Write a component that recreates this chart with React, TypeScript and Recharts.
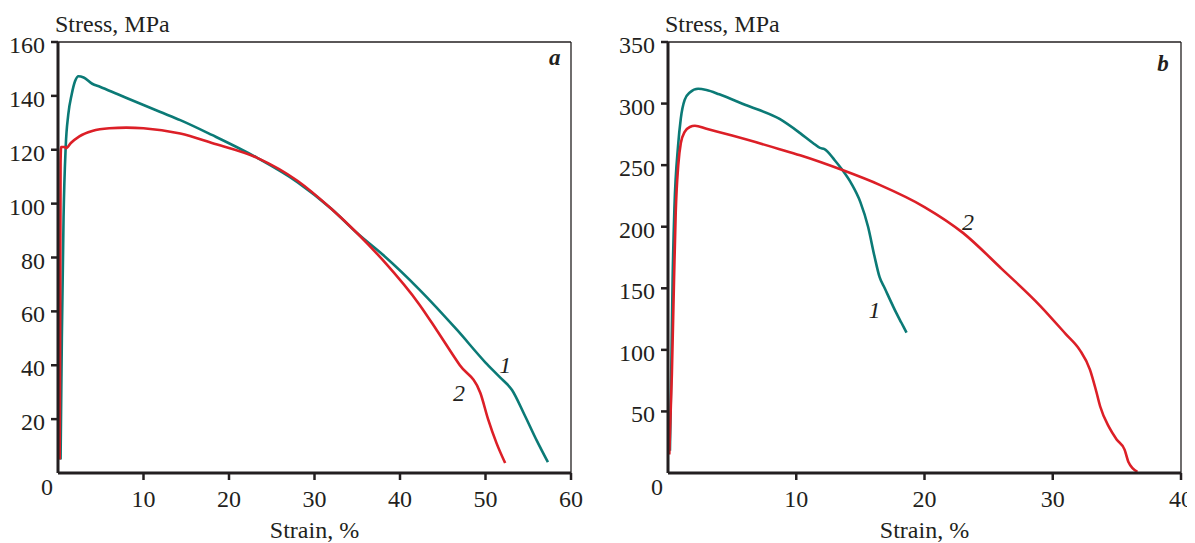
import { LineChart, Line, XAxis, YAxis, ReferenceLine, ReferenceDot } from 'recharts';

const FONT = '"Liberation Serif", "Times New Roman", serif';
const INK = '#231f20';
const TEAL = '#0b7a76';
const RED = '#dc1f27';

// panel a
const strainA1 = [0.3, 0.45, 0.65, 0.9, 1.2, 1.6, 2.0, 2.4, 3.0, 4.0, 4.9, 7, 10, 11.9, 14.3, 18, 23.3, 28, 32, 35, 38, 42.3, 46.7, 50, 51.7, 53.1, 54.5, 56, 57.3];
const stressA1 = [5, 50, 95, 121, 133, 140.5, 145.5, 147.3, 146.8, 144.5, 143.4, 140.6, 136.6, 134.1, 131, 125.5, 117, 108, 98, 89, 81, 68, 53, 41, 35.5, 30.8, 22, 12, 4];
const strainA2 = [0.2, 0.26, 0.3, 0.36, 0.6, 0.8, 0.95, 1.5, 2.5, 4, 6, 8, 10, 14.3, 18, 23.3, 28, 32, 35, 38, 42.3, 44.3, 47, 49.4, 50.3, 51.3, 52.3];
const stressA2 = [5, 60, 115, 121, 121, 121, 120.6, 122.5, 125, 127, 128, 128.2, 128, 126, 122.5, 117, 108.5, 98, 89, 79, 62.4, 53, 40, 29.7, 20, 11, 3.7];
const ticksAX = [10, 20, 30, 40, 50, 60];
const ticksAY = [0, 20, 40, 60, 80, 100, 120, 140, 160];

// panel b
const strainB1 = [0.15, 0.25, 0.36, 0.5, 0.78, 1.0, 1.3, 1.7, 2.35, 3, 4, 6, 8.7, 10.3, 11.3, 11.85, 12.2, 13, 13.6, 14.3, 15, 15.6, 16.1, 16.5, 16.9, 17.5, 17.8, 18.2, 18.6];
const stressB1 = [18, 80, 157, 215, 265, 288, 303, 309, 312, 311, 307.5, 299, 287.5, 276, 268, 264, 263, 254, 246, 235, 220, 200, 176, 159, 150, 136.5, 130, 122, 114];
const strainB2 = [0.1, 0.3, 0.47, 0.6, 0.8, 1.0, 1.3, 1.7, 2.1, 3, 5, 8.7, 10.3, 13.6, 16.5, 20, 23, 26, 29, 31, 32.1, 32.9, 33.4, 33.7, 34.4, 35.0, 35.6, 35.9, 36.6];
const stressB2 = [15, 80, 157, 211, 250, 268, 277, 281, 282, 279.5, 274, 263, 258, 246, 234, 216, 195, 166, 136, 113, 100, 84, 66, 54, 37, 27, 19, 9, 1];
const ticksBX = [10, 20, 30, 40];
const ticksBY = [0, 50, 100, 150, 200, 250, 300, 350];

const toPoints = (e: number[], s: number[]) => e.map((v, i) => ({ e: v, s: s[i] }));

const TICK_SIZE = 7;
const TICK_MARGIN = 6;
const txt = (extra: Record<string, any> = {}) => ({ fontFamily: FONT, fontSize: 24, fill: INK, ...extra });

const YTick = (props: any) => {
  const { x, y, payload } = props;
  const axisX = x + TICK_SIZE + TICK_MARGIN;
  const zero = payload.value === 0;
  return (
    <g>
      {!zero && <line x1={axisX - TICK_SIZE} x2={axisX} y1={y} y2={y} stroke={INK} strokeWidth={2.5} />}
      <text x={zero ? x + 8 : x} y={zero ? y + 22 : y + 11} textAnchor="end" style={txt()}>
        {payload.value}
      </text>
    </g>
  );
};

const XTick = (props: any) => {
  const { x, y, payload } = props;
  return (
    <text x={x} y={y + 19} textAnchor="middle" style={txt()}>
      {payload.value}
    </text>
  );
};

type PanelProps = {
  width: number;
  marginRight: number;
  yWidth: number;
  xMax: number;
  yMax: number;
  xTicks: number[];
  yTicks: number[];
  teal: { e: number; s: number }[];
  red: { e: number; s: number }[];
  letter: string;
  letterPos: [number, number];
  label1: [number, number];
  label2: [number, number];
};

const textLabel = (text: string, style: Record<string, any>) => ({
  content: (lp: any) => (
    <text x={lp.viewBox.x} y={lp.viewBox.y + 8} textAnchor="middle" style={txt(style)}>
      {text}
    </text>
  ),
});

function Panel(p: PanelProps) {
  return (
    <LineChart width={p.width} height={540} margin={{ top: 34, right: p.marginRight, bottom: 0, left: 0 }}>
      <XAxis
        type="number"
        dataKey="e"
        domain={[0, p.xMax]}
        ticks={p.xTicks}
        allowDataOverflow
        height={75}
        axisLine={{ stroke: INK, strokeWidth: 3 }}
        tickLine={{ stroke: INK, strokeWidth: 2.5 }}
        tickSize={TICK_SIZE}
        tickMargin={8}
        tick={<XTick />}
        label={{
          content: (lp: any) => (
            <text x={lp.viewBox.x + lp.viewBox.width / 2} y={lp.viewBox.y + 65} textAnchor="middle" style={txt()}>
              Strain, %
            </text>
          ),
        }}
      />
      <YAxis
        type="number"
        dataKey="s"
        domain={[0, p.yMax]}
        ticks={p.yTicks}
        allowDataOverflow
        width={p.yWidth}
        axisLine={{ stroke: INK, strokeWidth: 3 }}
        tickLine={false}
        tickSize={TICK_SIZE}
        tickMargin={TICK_MARGIN}
        tick={<YTick />}
      />
      <ReferenceLine y={p.yMax} stroke={INK} strokeWidth={1.3} />
      <ReferenceLine x={p.xMax} stroke={INK} strokeWidth={1.3} />
      <Line data={p.teal} dataKey="s" type="monotone" stroke={TEAL} strokeWidth={2.6} dot={false} isAnimationActive={false} />
      <Line data={p.red} dataKey="s" type="monotone" stroke={RED} strokeWidth={2.6} dot={false} isAnimationActive={false} />
      <ReferenceDot
        x={0}
        y={p.yMax}
        r={0}
        fill="none"
        stroke="none"
        label={{
          content: (lp: any) => (
            <text x={lp.viewBox.x - 3} y={lp.viewBox.y - 10} style={txt()}>
              Stress, MPa
            </text>
          ),
        }}
      />
      <ReferenceDot x={p.letterPos[0]} y={p.letterPos[1]} r={0} fill="none" stroke="none"
        label={textLabel(p.letter, { fontStyle: 'italic', fontWeight: 'bold', fontSize: 23 })} />
      <ReferenceDot x={p.label1[0]} y={p.label1[1]} r={0} fill="none" stroke="none"
        label={textLabel('1', { fontStyle: 'italic' })} />
      <ReferenceDot x={p.label2[0]} y={p.label2[1]} r={0} fill="none" stroke="none"
        label={textLabel('2', { fontStyle: 'italic' })} />
    </LineChart>
  );
}

export default function App() {
  return (
    <div style={{ position: 'relative', width: 1187, height: 535 }}>
      <div style={{ position: 'absolute', left: 0, top: 0 }}>
        <Panel
          width={583}
          marginRight={20}
          yWidth={50}
          xMax={60}
          yMax={160}
          xTicks={ticksAX}
          yTicks={ticksAY}
          teal={toPoints(strainA1, stressA1)}
          red={toPoints(strainA2, stressA2)}
          letter="a"
          letterPos={[58.1, 154.4]}
          label1={[52.3, 40.1]}
          label2={[46.9, 29.7]}
        />
      </div>
      <div style={{ position: 'absolute', left: 592, top: 0 }}>
        <Panel
          width={595}
          marginRight={14}
          yWidth={68}
          xMax={40}
          yMax={350}
          xTicks={ticksBX}
          yTicks={ticksBY}
          teal={toPoints(strainB1, stressB1)}
          red={toPoints(strainB2, stressB2)}
          letter="b"
          letterPos={[38.6, 333]}
          label1={[16.1, 132.4]}
          label2={[23.4, 203.9]}
        />
      </div>
    </div>
  );
}
